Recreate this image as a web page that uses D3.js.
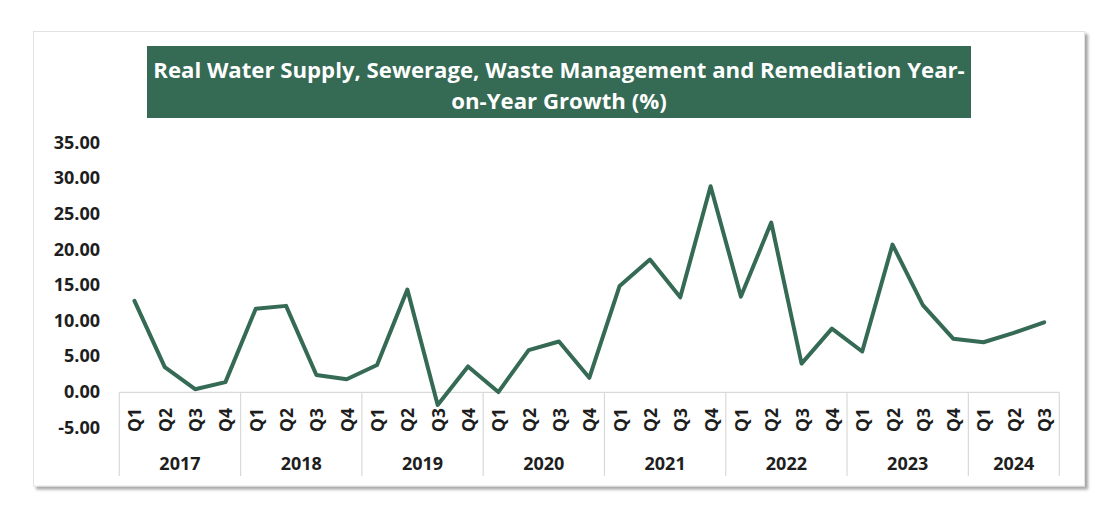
<!DOCTYPE html>
<html>
<head>
<meta charset="utf-8">
<script src="https://cdn.jsdelivr.net/npm/d3@7"></script>
<style>
  html, body { margin: 0; padding: 0; background: #ffffff; }
  svg { display: block; }
</style>
</head>
<body>
<svg id="chart" width="1120" height="509"></svg>
<script>
// ---- data ----
const titleLines = ["Real Water Supply, Sewerage, Waste Management and Remediation Year-", "on-Year Growth (%)"];
const years = ["2017", "2018", "2019", "2020", "2021", "2022", "2023", "2024"];
const quartersPerYear = [4, 4, 4, 4, 4, 4, 4, 3];
const quarterLabels = ["Q1", "Q2", "Q3", "Q4"];
const values = [12.7, 3.4, 0.3, 1.3, 11.6, 12.0, 2.3, 1.7, 3.7, 14.3, -1.9, 3.5,
                -0.1, 5.8, 7.0, 1.9, 14.8, 18.5, 13.2, 28.8, 13.3, 23.7, 3.9, 8.8,
                5.6, 20.6, 12.1, 7.4, 6.9, 8.2, 9.7];
const yTicks = [-5, 0, 5, 10, 15, 20, 25, 30, 35];

// categories built from the year / quarter lists
const categories = [];
years.forEach((yr, i) => {
  for (let q = 0; q < quartersPerYear[i]; q++) categories.push({ year: yr, q: quarterLabels[q], key: yr + " " + quarterLabels[q] });
});
const points = categories.map((c, i) => ({ ...c, v: values[i] }));

// ---- layout ----
const svg = d3.select("#chart");
const green = "#356a55";
const textColor = "#1e1e1e";
const gridColor = "#d9d9d9";
const font = "'Open Sans', 'Noto Sans', sans-serif";

const defs = svg.append("defs");
const f = defs.append("filter").attr("id", "shadow").attr("x", "-5%").attr("y", "-5%").attr("width", "110%").attr("height", "115%");
f.append("feDropShadow").attr("dx", 3).attr("dy", 3).attr("stdDeviation", 1.8).attr("flood-color", "#000").attr("flood-opacity", 0.35);

// frame
svg.append("rect")
  .attr("x", 33.5).attr("y", 31.5).attr("width", 1051).attr("height", 454.5)
  .attr("fill", "#fff").attr("stroke", "#e2e2e2").attr("stroke-width", 1)
  .attr("filter", "url(#shadow)");

// title
svg.append("rect").attr("x", 147).attr("y", 46).attr("width", 824).attr("height", 72).attr("fill", green);
const t1 = svg.append("text").attr("x", 559).attr("y", 69)
  .attr("text-anchor", "middle").attr("dominant-baseline", "central")
  .attr("fill", "#fff").attr("font-family", font).attr("font-weight", 700).attr("font-size", 20)
  .text(titleLines[0]);
const w1 = t1.node().getComputedTextLength();
const titleSize = 20 * 812 / w1;
t1.attr("font-size", titleSize);
svg.append("text").attr("x", 559).attr("y", 100)
  .attr("text-anchor", "middle").attr("dominant-baseline", "central")
  .attr("fill", "#fff").attr("font-family", font).attr("font-weight", 700).attr("font-size", titleSize)
  .text(titleLines[1]);

// scales
const x = d3.scaleBand().domain(categories.map(c => c.key)).range([119.3, 1059.3]).padding(0);
const y = d3.scaleLinear().domain([-5, 35]).range([427, 142]);
const cx = k => x(k) + x.bandwidth() / 2;

// y axis (hyphen-minus like the source)
const fmt = d3.format(".2f");
const yAxis = d3.axisLeft(y).tickValues(yTicks).tickFormat(d => fmt(d).replace("\u2212", "-")).tickSize(0).tickPadding(0);
const gy = svg.append("g").attr("transform", "translate(100,0)").call(yAxis);
gy.select(".domain").remove();
gy.selectAll("text").attr("font-family", font).attr("font-weight", 700).attr("font-size", 18)
  .attr("fill", textColor).attr("dy", "0.34em");

// category axis box
const axisTop = y(0) + 1;
const axisBottom = 476;
svg.append("line").attr("x1", x.range()[0]).attr("x2", x.range()[1]).attr("y1", axisTop).attr("y2", axisTop)
  .attr("stroke", gridColor).attr("stroke-width", 1.2);

// year boundaries
const yearGroups = [];
let idx = 0;
years.forEach((yr, i) => {
  const first = categories[idx].key;
  const last = categories[idx + quartersPerYear[i] - 1].key;
  yearGroups.push({ year: yr, x0: x(first), x1: x(last) + x.bandwidth() });
  idx += quartersPerYear[i];
});
const bounds = [yearGroups[0].x0].concat(yearGroups.map(g => g.x1));
svg.selectAll(".ybound").data(bounds).enter().append("line")
  .attr("x1", d => d).attr("x2", d => d).attr("y1", axisTop).attr("y2", axisBottom)
  .attr("stroke", gridColor).attr("stroke-width", 1.2);

// quarter labels (rotated)
svg.selectAll(".qlab").data(categories).enter().append("text")
  .attr("transform", d => `translate(${cx(d.key)},420) rotate(-90)`)
  .attr("text-anchor", "middle").attr("dominant-baseline", "central")
  .attr("font-family", font).attr("font-weight", 700).attr("font-size", 17.5)
  .attr("fill", textColor).text(d => d.q);

// year labels
svg.selectAll(".ylab").data(yearGroups).enter().append("text")
  .attr("x", d => (d.x0 + d.x1) / 2).attr("y", 463)
  .attr("text-anchor", "middle").attr("dominant-baseline", "central")
  .attr("font-family", font).attr("font-weight", 700).attr("font-size", 18)
  .attr("fill", textColor).text(d => d.year);

// line
const line = d3.line().x(d => cx(d.key)).y(d => y(d.v));
svg.append("path").datum(points).attr("d", line)
  .attr("fill", "none").attr("stroke", green).attr("stroke-width", 4)
  .attr("stroke-linejoin", "round").attr("stroke-linecap", "round");
</script>
</body>
</html>
